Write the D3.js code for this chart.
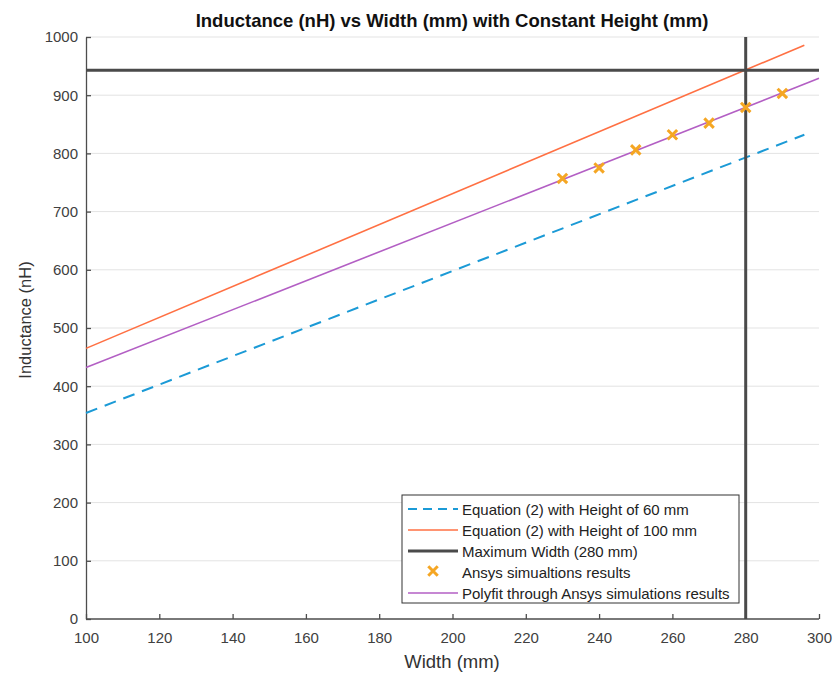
<!doctype html>
<html>
<head>
<meta charset="utf-8"/>
<script src="https://cdnjs.cloudflare.com/ajax/libs/d3/7.8.5/d3.min.js"></script>
<style>
  body { margin: 0; background: #fff; }
  svg { font-family: "Liberation Sans", Arial, sans-serif; }
</style>
</head>
<body>
<svg width="835" height="673"></svg>
<script>
// chart values
var xTicks = [100, 120, 140, 160, 180, 200, 220, 240, 260, 280, 300];
var yTicks = [0, 100, 200, 300, 400, 500, 600, 700, 800, 900, 1000];
var eq60 = [[100, 354], [296, 832]];
var eq100 = [[100, 465], [296, 986]];
var polyfit = [[100, 432], [300, 929]];
var ansysW = [230, 240, 250, 260, 270, 280, 290];
var ansysL = [757, 775, 806, 832, 852, 879, 903];
var maxWidth = 280;
var maxLine = 943;
var legendLabels = ["Equation (2) with Height of 60 mm", "Equation (2) with Height of 100 mm",
  "Maximum Width (280 mm)", "Ansys simualtions results", "Polyfit through Ansys simulations results"];

var svg = d3.select("svg");
var mLeft = 86, mRight = 819, mTop = 37, mBottom = 619;

var x = d3.scaleLinear().domain([100, 300]).range([mLeft, mRight]);
var y = d3.scaleLinear().domain([0, 1000]).range([mBottom, mTop]);

// grid
svg.append("g").selectAll("line").data(yTicks.slice(1)).enter().append("line")
  .attr("x1", mLeft).attr("x2", mRight)
  .attr("y1", function(d){ return y(d); }).attr("y2", function(d){ return y(d); })
  .style("stroke", "#e3e3e3").style("stroke-width", 1);

var xAxis = d3.axisBottom(x).tickValues(xTicks).tickSizeInner(-5).tickSizeOuter(0).tickPadding(13);
var yAxis = d3.axisLeft(y).tickValues(yTicks).tickFormat(d3.format("d")).tickSizeInner(-5).tickSizeOuter(0).tickPadding(8);

var gx = svg.append("g").attr("transform", "translate(0," + mBottom + ")").call(xAxis);
var gy = svg.append("g").attr("transform", "translate(" + mLeft + ",0)").call(yAxis);
[gx, gy].forEach(function(g){
  g.selectAll("path, line").style("stroke", "#4d4d4d").style("stroke-width", 1.3);
  g.selectAll("text").style("font-size", "15px").style("fill", "#404040").style("font-family", "Liberation Sans, Arial, sans-serif");
});
gx.select("path.domain").attr("d", "M" + mLeft + ",0H" + mRight);

var line = d3.line().x(function(d){ return x(d[0]); }).y(function(d){ return y(d[1]); });

svg.append("path").datum(eq60).attr("d", line)
  .style("fill", "none").style("stroke", "#1b9ad6").style("stroke-width", 2).style("stroke-dasharray", "12,8");
svg.append("path").datum(eq100).attr("d", line)
  .style("fill", "none").style("stroke", "#ff7043").style("stroke-width", 1.6);
svg.append("path").datum(polyfit).attr("d", line)
  .style("fill", "none").style("stroke", "#b35fc4").style("stroke-width", 1.6);

// max width markers
svg.append("line").attr("x1", x(maxWidth)).attr("x2", x(maxWidth)).attr("y1", mTop).attr("y2", mBottom)
  .style("stroke", "#4a4a4a").style("stroke-width", 3);
svg.append("line").attr("x1", mLeft).attr("x2", mRight).attr("y1", y(maxLine)).attr("y2", y(maxLine))
  .style("stroke", "#4a4a4a").style("stroke-width", 3);

var cross = d3.symbol().type(d3.symbolX).size(60);
svg.append("g").selectAll("path").data(ansysW).enter().append("path")
  .attr("d", cross)
  .attr("transform", function(d, i){ return "translate(" + x(d) + "," + y(ansysL[i]) + ")"; })
  .style("fill", "none").style("stroke", "#f5a623").style("stroke-width", 3);

// title and labels
svg.append("text").attr("x", 452).attr("y", 27).attr("text-anchor", "middle")
  .style("font-weight", "bold").style("font-size", "18.5px").style("fill", "#111")
  .text("Inductance (nH) vs Width (mm) with Constant Height (mm)");
svg.append("text").attr("x", 452).attr("y", 668).attr("text-anchor", "middle")
  .style("font-size", "18.5px").style("fill", "#333").text("Width (mm)");
svg.append("text").attr("transform", "translate(31,320) rotate(-90)")
  .attr("text-anchor", "middle").style("font-size", "16.5px").style("fill", "#333").text("Inductance (nH)");

// legend
var lg = svg.append("g").attr("transform", "translate(402,495)");
lg.append("rect").attr("width", 337).attr("height", 108)
  .style("fill", "#fff").style("stroke", "#333").style("stroke-width", 1);
var rowH = 21, y0 = 14;
var items = lg.selectAll("g").data(legendLabels).enter().append("g")
  .attr("transform", function(d, i){ return "translate(0," + (y0 + i * rowH) + ")"; });
items.append("text").attr("x", 60).attr("y", 5.5).style("font-size", "15px").style("fill", "#222")
  .text(function(d){ return d; });
var sw = [
  {stroke: "#1b9ad6", w: 2, dash: "9,6"},
  {stroke: "#ff7043", w: 1.6, dash: null},
  {stroke: "#4a4a4a", w: 3, dash: null},
  null,
  {stroke: "#b35fc4", w: 1.6, dash: null}
];
items.each(function(d, i){
  var g = d3.select(this);
  if (sw[i]) {
    g.append("line").attr("x1", 6).attr("x2", 56).attr("y1", 0).attr("y2", 0)
      .style("stroke", sw[i].stroke).style("stroke-width", sw[i].w)
      .style("stroke-dasharray", sw[i].dash);
  } else {
    g.append("path").attr("d", cross).attr("transform", "translate(31,-1)")
      .style("fill", "none").style("stroke", "#f5a623").style("stroke-width", 3);
  }
});
</script>
</body>
</html>
